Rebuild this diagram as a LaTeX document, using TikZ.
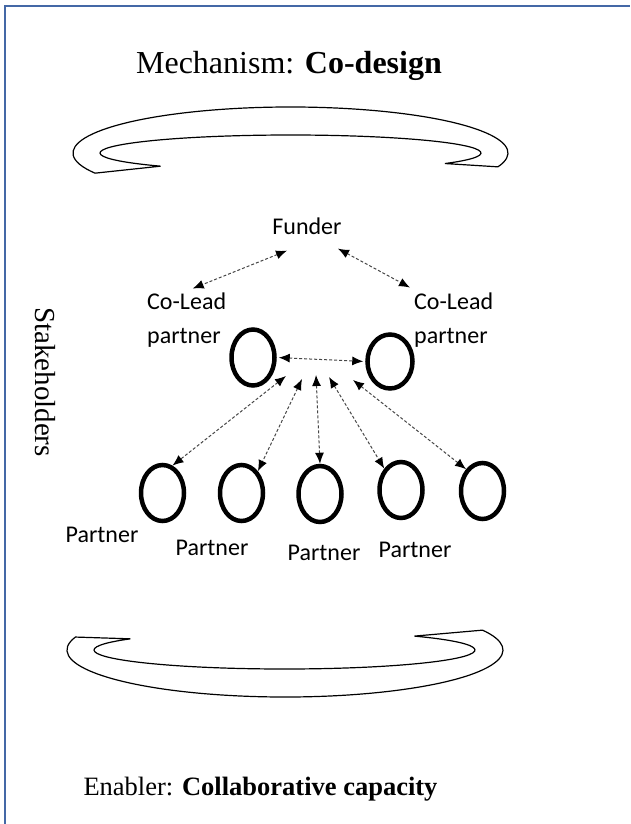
\documentclass[tikz,border=0pt]{standalone}
\usepackage{fontspec}
\setmainfont{Liberation Serif}[BoldFont={Liberation Serif Bold},ItalicFont={Liberation Serif Italic}]
\newfontfamily\lab{Carlito}
\usetikzlibrary{arrows.meta,shapes.geometric,calc}
\definecolor{frameblue}{RGB}{68,104,166}
\definecolor{dashgray}{RGB}{70,70,70}
\tikzset{
  framestyle/.style={draw=frameblue,line width=2.5pt},
  band/.style={draw=black,line width=1.2pt,line join=miter},
  member/.style={ellipse,draw=black,line width=4.5pt,minimum width=43pt,minimum height=56pt,inner sep=0pt},
  lbl/.style={font=\lab\fontsize{24}{34}\selectfont,inner sep=0pt},
  biarrow/.style={draw=dashgray,line width=1pt,dash pattern=on 3pt off 2pt,
    {Latex[length=11pt,width=9pt,color=black]}-{Latex[length=11pt,width=9pt,color=black]}},
  heading/.style={inner sep=0pt}
}
\begin{document}
\begin{tikzpicture}[x=1pt,y=-1pt]
\useasboundingbox (0,0) rectangle (630,824);
% frame
\draw[framestyle] (5,824) -- (5,6) -- (630,6);
% headings
\node[heading,font=\fontsize{32}{37}\selectfont] (mech) at (289,65.5) {Mechanism: \textbf{Co-design}};
\node[heading,font=\fontsize{26.5}{31}\selectfont] (enab) at (260.5,789) {Enabler: \textbf{Collaborative capacity}};
\node[heading,font=\fontsize{29}{34}\selectfont,rotate=-90] (stake) at (45,382) {Stakeholders};
% top curved band
\draw[band] ($(290.5,153)+({190.5*cos(-227)},{18*sin(-227)})$)
  -- ($(290.5,153)+({217.5*cos(-206)},{46*sin(-206)})$)
  arc[start angle=-206,end angle=17.5,x radius=217.5,y radius=46]
  -- ($(290.5,153)+({190.5*cos(35.8)},{18*sin(35.8)})$)
  arc[start angle=35.8,end angle=-227,x radius=190.5,y radius=18]
  -- cycle;
% bottom curved band
\draw[band] ($(284.5,650)+({190.5*cos(-144)},{19*sin(-144)})$)
  -- ($(285,650)+({218*cos(-164)},{47*sin(-164)})$)
  arc[start angle=-164,end angle=-385,x radius=218,y radius=47]
  -- ($(284.5,650)+({190.5*cos(-47)},{19*sin(-47)})$)
  arc[start angle=-47,end angle=216,x radius=190.5,y radius=19]
  -- cycle;
% labels
\node[lbl] (funder) at (307,226) {Funder};
\node[lbl,align=left,anchor=west] (cl1) at (147,320) {Co-Lead\\partner};
\node[lbl,align=left,anchor=west] (cl2) at (414,320) {Co-Lead\\partner};
% members
\node[member] (L) at (253,357.5) {};
\node[member,minimum width=45pt,minimum height=54pt] (R) at (390,361.5) {};
\node[member] (c1) at (162.5,493) {};
\node[member] (c2) at (241.5,493) {};
\node[member] (c3) at (320,494) {};
\node[member] (c4) at (401,490) {};
\node[member] (c5) at (482.5,491) {};
\node[lbl] (p1) at (102,535) {Partner};
\node[lbl] (p2) at (212,548) {Partner};
\node[lbl] (p3) at (324,553) {Partner};
\node[lbl] (p4) at (415,550) {Partner};
% hub coordinates
\coordinate (h1) at (286,376);
\coordinate (h2) at (302,379);
\coordinate (h3) at (316,375);
\coordinate (h4) at (329,377);
\coordinate (h5) at (353,380);
% connectors
\draw[biarrow] ([shift={(-20,16)}]funder.south) -- ([shift={(6,-4)}]cl1.north west -| cl1.north);
\draw[biarrow] ([shift={(31,14)}]funder.south) -- ([shift={(-4,-5)}]cl2.north west);
\draw[biarrow,shorten <=2pt,shorten >=2pt] (L.east) -- (R.west);
\draw[biarrow] (h1) -- (c1.70);
\draw[biarrow] (h2) -- (c2.53);
\draw[biarrow] (h3) -- (c3.90);
\draw[biarrow] (h4) -- (c4.128);
\draw[biarrow] (h5) -- (c5.127);
\end{tikzpicture}
\end{document}
